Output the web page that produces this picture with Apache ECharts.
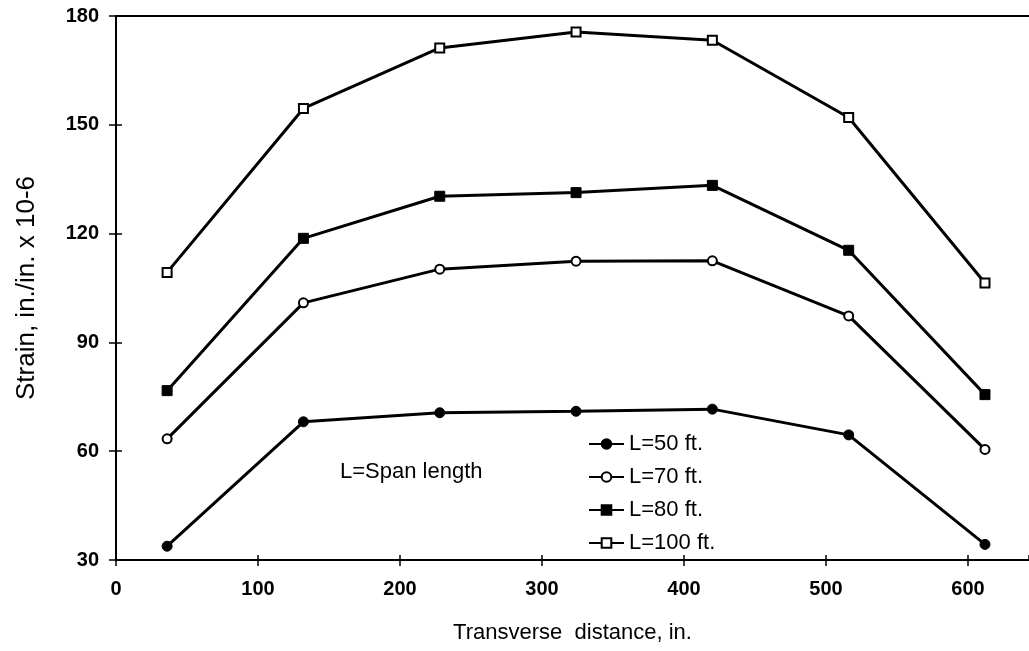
<!DOCTYPE html>
<html>
<head>
<meta charset="utf-8">
<script src="https://cdn.jsdelivr.net/npm/echarts@6/dist/echarts.min.js"></script>
<style>
html,body{margin:0;padding:0;background:#fff;}
#chart{width:1029px;height:651px;}
</style>
</head>
<body>
<div id="chart"></div>
<script>
// Data
const xPositions = [36, 132, 228, 324, 420, 516, 612];
const seriesNames = ['L=50 ft.', 'L=70 ft.', 'L=80 ft.', 'L=100 ft.'];
const strainL50  = [33.8, 68.1, 70.6, 71.0, 71.6, 64.5, 34.3];
const strainL70  = [63.4, 100.9, 110.2, 112.4, 112.5, 97.3, 60.5];
const strainL80  = [76.7, 118.7, 130.3, 131.3, 133.3, 115.4, 75.6];
const strainL100 = [109.3, 154.5, 171.2, 175.6, 173.3, 152.0, 106.4];
const xTickLabels = ['0', '100', '200', '300', '400', '500', '600'];
const yTickLabels = ['30', '60', '90', '120', '150', '180'];

const FONT = '"Liberation Sans", Arial, sans-serif';
const pair = (ys) => xPositions.map((x, i) => [x, ys[i]]);

const markerStyles = [
  { symbol: 'circle', symbolSize: 10, itemStyle: { color: '#000', borderColor: '#000', borderWidth: 1 } },
  { symbol: 'circle', symbolSize: 9, itemStyle: { color: '#fff', borderColor: '#000', borderWidth: 2 } },
  { symbol: 'rect', symbolSize: 10, itemStyle: { color: '#000', borderColor: '#000', borderWidth: 1 } },
  { symbol: 'rect', symbolSize: 9, itemStyle: { color: '#fff', borderColor: '#000', borderWidth: 2 } }
];
const dataSets = [strainL50, strainL70, strainL80, strainL100];

const chart = echarts.init(document.getElementById('chart'), null, { renderer: 'canvas' });

const xMin = 0, xMax = 643, yMin = 30, yMax = 180;

chart.setOption({
  animation: false,
  backgroundColor: '#fff',
  textStyle: { fontFamily: FONT, color: '#000' },
  grid: { left: 116, right: 0, top: 16, bottom: 91, containLabel: false },
  legend: {
    data: seriesNames,
    orient: 'vertical',
    left: 583,
    top: 428,
    itemWidth: 35,
    itemHeight: 12,
    itemGap: 11,
    padding: 5,
    textStyle: { fontFamily: FONT, fontSize: 22, color: '#000' },
    selectedMode: false
  },
  xAxis: [
    {
      type: 'value', position: 'bottom', min: xMin, max: xMax, interval: 100,
      name: 'Transverse  distance, in.', nameLocation: 'middle', nameGap: 62,
      nameTextStyle: { fontFamily: FONT, fontSize: 22, color: '#000' },
      axisLine: { show: true, lineStyle: { color: '#000', width: 2 } },
      axisTick: { show: true, inside: false, length: 6, lineStyle: { color: '#000', width: 1.5 } },
      axisLabel: {
        margin: 19, fontFamily: FONT, fontSize: 20, fontWeight: 'bold', color: '#000',
        showMaxLabel: false,
        formatter: (v) => { const i = xTickLabels.indexOf(String(v)); return i >= 0 ? xTickLabels[i] : ''; }
      },
      splitLine: { show: false }
    },
    {
      type: 'value', position: 'bottom', min: xMin, max: xMax, interval: 100, gridIndex: 0,
      axisLine: { show: false },
      axisTick: { show: true, inside: true, length: 5, lineStyle: { color: '#000', width: 1.5 } },
      axisLabel: { show: false },
      splitLine: { show: false }
    },
    {
      type: 'value', position: 'top', min: xMin, max: xMax, interval: 100, gridIndex: 0,
      axisLine: { show: true, lineStyle: { color: '#000', width: 2 } },
      axisTick: { show: false },
      axisLabel: { show: false },
      splitLine: { show: false }
    }
  ],
  yAxis: [
    {
      type: 'value', position: 'left', min: yMin, max: yMax, interval: 30,
      name: 'Strain, in./in. x 10-6', nameLocation: 'middle', nameGap: 76, nameRotate: 90,
      nameTextStyle: { fontFamily: FONT, fontSize: 26, color: '#000' },
      axisLine: { show: true, lineStyle: { color: '#000', width: 2 } },
      axisTick: { show: true, inside: false, length: 7, lineStyle: { color: '#000', width: 1.5 } },
      axisLabel: {
        margin: 17, fontFamily: FONT, fontSize: 20, fontWeight: 'bold', color: '#000',
        formatter: (v) => { const i = yTickLabels.indexOf(String(v)); return i >= 0 ? yTickLabels[i] : ''; }
      },
      splitLine: { show: false }
    },
    {
      type: 'value', position: 'left', min: yMin, max: yMax, interval: 30,
      axisLine: { show: false },
      axisTick: { show: true, inside: true, length: 6, lineStyle: { color: '#000', width: 1.5 } },
      axisLabel: { show: false },
      splitLine: { show: false }
    }
  ],
  graphic: [
    {
      type: 'text', left: 340, top: 461,
      style: { text: 'L=Span length', font: '22px ' + FONT, fill: '#000' }
    }
  ],
  series: seriesNames.map((name, k) => ({
    name: name,
    type: 'line',
    xAxisIndex: 0,
    yAxisIndex: 0,
    data: pair(dataSets[k]),
    symbol: markerStyles[k].symbol,
    symbolSize: markerStyles[k].symbolSize,
    showAllSymbol: true,
    itemStyle: markerStyles[k].itemStyle,
    lineStyle: { color: '#000', width: 3 },
    emphasis: { disabled: true },
    z: 3 + k
  }))
});
</script>
</body>
</html>
